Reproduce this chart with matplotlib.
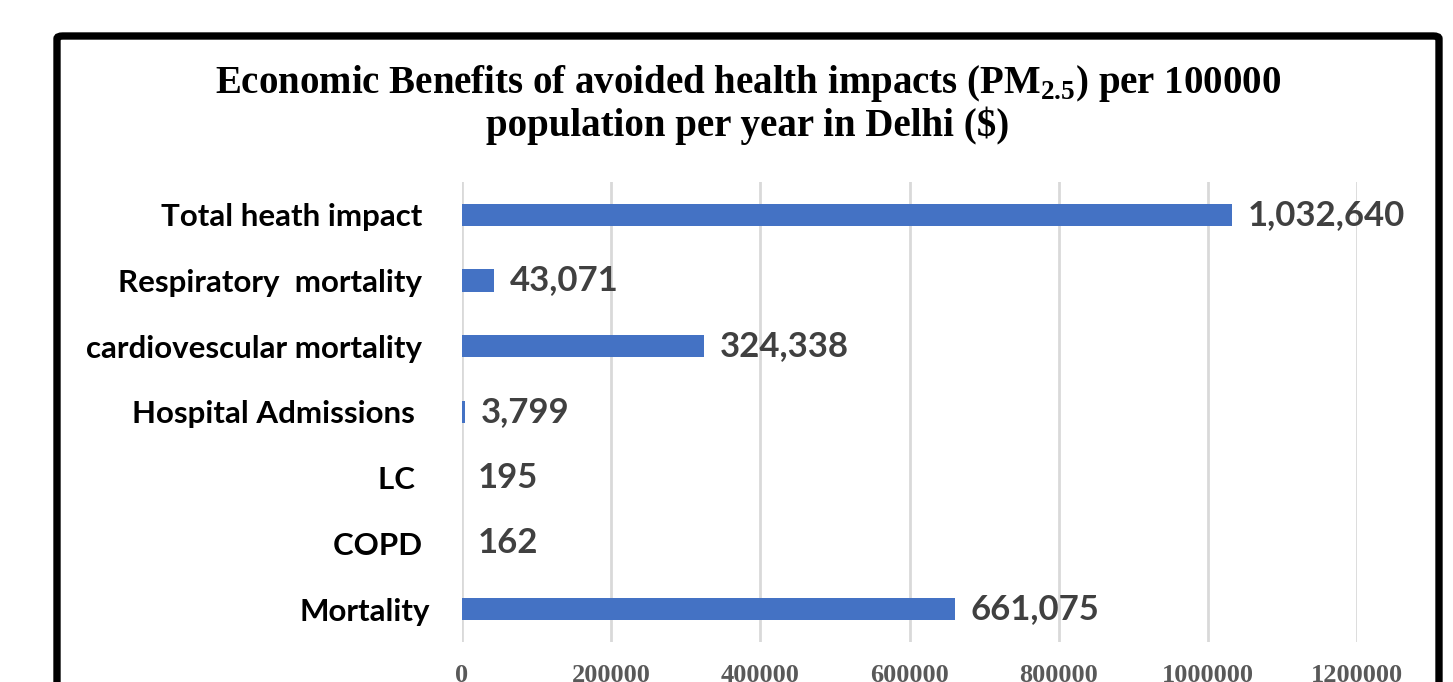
import matplotlib.pyplot as plt
from matplotlib.patches import FancyBboxPatch

plt.rcParams["mathtext.fontset"] = "custom"
plt.rcParams["mathtext.rm"] = "Liberation Serif:bold"
plt.rcParams["mathtext.bf"] = "Liberation Serif:bold"

# benefit categories, bottom to top as drawn
categories = ["Mortality", "COPD ", "LC  ", "Hospital Admissions  ",
              "cardiovescular mortality ", "Respiratory  mortality ", "Total heath impact "]
values = [661075, 162, 195, 3799, 324338, 43071, 1032640]
xticks = [0, 200000, 400000, 600000, 800000, 1000000, 1200000]

fig = plt.figure(figsize=(14.53, 6.82), dpi=100)
ax = fig.add_axes([0.318, 0.0587, 0.616, 0.6745])

ypos = range(len(categories))
ax.barh(ypos, values, height=0.34, color="#4472c4", zorder=3)

for y, v in zip(ypos, values):
    ax.text(v + 21000, y, f"{v:,}", va="center", ha="left",
            fontsize=25, fontweight="bold", family="Lato", color="#404040")

ax.set_xlim(0, 1200000)
ax.set_ylim(-0.5, 6.5)
ax.set_yticks(list(ypos))
ax.set_yticklabels(categories, fontsize=22.5, fontweight="bold", family="Lato", color="black")
ax.set_xticks(xticks)
ax.set_xticklabels([str(t) for t in xticks], fontsize=19, fontweight="bold",
                   family="Liberation Serif", color="#595959")
ax.tick_params(axis="y", length=0, pad=23)
ax.tick_params(axis="x", length=0, pad=16)
ax.grid(axis="x", color="#d9d9d9", linewidth=2, zorder=0)
for s in ax.spines.values():
    s.set_visible(False)

fig.text(0.5145, 0.8636, r"Economic Benefits of avoided health impacts (PM$_{2.5}$) per 100000",
         ha="center", va="baseline", fontsize=28, fontweight="bold", family="Liberation Serif")
fig.text(0.5145, 0.8006, "population per year in Delhi ($)",
         ha="center", va="baseline", fontsize=28, fontweight="bold", family="Liberation Serif")

# thick frame around the chart, running off the bottom edge
frame = FancyBboxPatch((57 / 1453, -0.1), (1439 - 57) / 1453, 1 - 36 / 682 + 0.1,
                       boxstyle="round,pad=0,rounding_size=0.004",
                       transform=fig.transFigure, fill=False, edgecolor="black",
                       linewidth=5.3, clip_on=False)
fig.patches.append(frame)

fig.savefig("out.png", dpi=100)
